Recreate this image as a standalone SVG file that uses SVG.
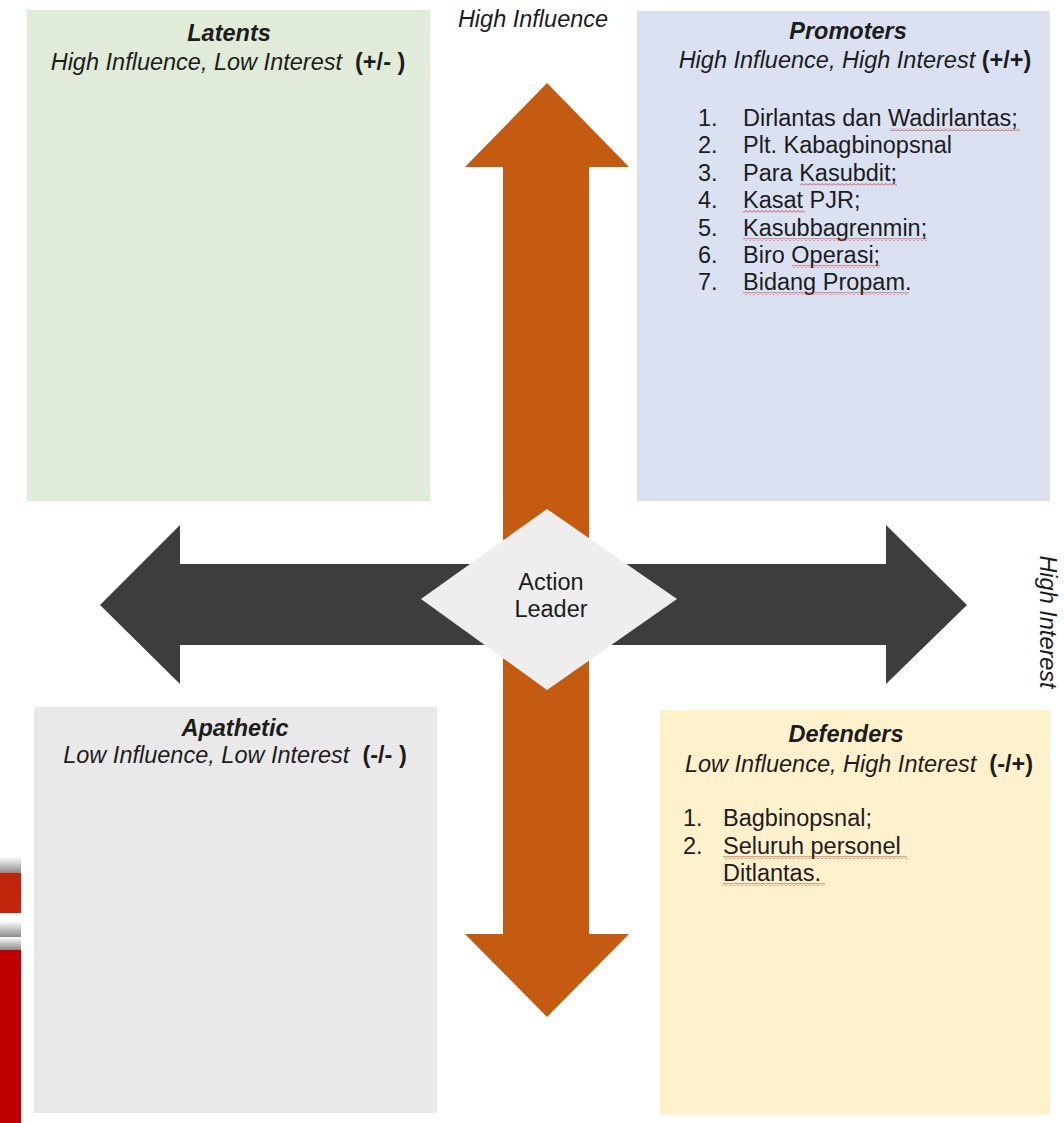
<svg xmlns="http://www.w3.org/2000/svg" width="1064" height="1123" viewBox="0 0 1064 1123">
<defs>
<style>
text{font-family:"Liberation Sans",Arial,sans-serif;font-size:23.5px;fill:#1c1c1c}
.t{font-weight:bold;font-style:italic;text-anchor:middle}
.s{font-style:italic;text-anchor:middle}
.b{font-weight:bold;font-style:normal}
.box{stroke:none}
.wv{fill:url(#wave)}
</style>
<pattern id="wave" width="4" height="3" patternUnits="userSpaceOnUse">
<path d="M0,2.5 L2,0.5 L4,2.5" fill="none" stroke="#d02020" stroke-width="0.8"/>
</pattern>
<linearGradient id="gb" x1="0" y1="0" x2="0" y2="1">
<stop offset="0" stop-color="#ffffff"/>
<stop offset="1" stop-color="#8a8a8a"/>
</linearGradient>
</defs>
<rect width="1064" height="1123" fill="#ffffff"/>

<!-- side decoration -->
<rect x="0" y="857" width="21" height="16" fill="url(#gb)"/>
<rect x="0" y="873" width="21" height="40" fill="#c2250b"/>
<rect x="0" y="921" width="21" height="16" fill="url(#gb)"/>
<rect x="0" y="937" width="21" height="13" fill="url(#gb)"/>
<rect x="0" y="950" width="21" height="173" fill="#c00000"/>

<g id="latents">
<rect class="box" x="27" y="10" width="403" height="491" fill="#e0ecd8"/>
<text class="t" x="229" y="41">Latents</text>
<text class="s" x="228" y="70">High Influence, Low Interest&#160; <tspan class="b">(+/- )</tspan></text>
</g>

<g id="promoters">
<rect class="box" x="637" y="11" width="413" height="490" fill="#dae2f2"/>
<text class="t" x="848" y="39">Promoters</text>
<text class="s" x="855" y="68">High Influence, High Interest <tspan class="b">(+/+)</tspan></text>
<g>
<text x="698" y="126">1.</text><text x="743" y="126">Dirlantas dan Wadirlantas;</text>
<text x="698" y="153">2.</text><text x="743" y="153">Plt. Kabagbinopsnal</text>
<text x="698" y="181">3.</text><text x="743" y="181">Para Kasubdit;</text>
<text x="698" y="208">4.</text><text x="743" y="208">Kasat PJR;</text>
<text x="698" y="236">5.</text><text x="743" y="236">Kasubbagrenmin;</text>
<text x="698" y="263">6.</text><text x="743" y="263">Biro Operasi;</text>
<text x="698" y="290">7.</text><text x="743" y="290">Bidang Propam.</text>
</g>
<rect class="wv" x="890" y="128" width="130" height="3"/>
<rect class="wv" x="800" y="183" width="97" height="3"/>
<rect class="wv" x="743" y="210" width="62" height="3"/>
<rect class="wv" x="743" y="238" width="184" height="3"/>
<rect class="wv" x="792" y="265" width="88" height="3"/>
<rect class="wv" x="743" y="292" width="166" height="3"/>
</g>

<g id="apathetic">
<rect class="box" x="34" y="707" width="403" height="406" fill="#e9e9e9"/>
<text class="t" x="235" y="736">Apathetic</text>
<text class="s" x="235" y="763">Low Influence, Low Interest&#160; <tspan class="b">(-/- )</tspan></text>
</g>

<g id="defenders">
<rect class="box" x="660" y="710" width="390" height="405" fill="#fff1cc"/>
<text class="t" x="846" y="742">Defenders</text>
<text class="s" x="859" y="772">Low Influence, High Interest&#160; <tspan class="b">(-/+)</tspan></text>
<text x="683" y="826">1.</text><text x="723" y="826">Bagbinopsnal;</text>
<text x="683" y="854">2.</text><text x="723" y="854">Seluruh personel</text>
<text x="723" y="881">Ditlantas.</text>
<rect class="wv" x="723" y="856" width="184" height="3"/>
<rect class="wv" x="723" y="883" width="102" height="3"/>
</g>

<g id="connectors">
<polygon id="influence-axis" points="547,83 629,167 589,167 589,934 629,934 547,1017 465,934 503,934 503,167 465,167" fill="#c55a11"/>
<polygon id="interest-axis" points="100,605 180,525 180,564 886,564 886,525 967,605 886,684 886,645 180,645 180,684" fill="#3d3d3d"/>
</g>

<g id="action-leader">
<polygon points="547,509 677,599 547,690 421,599" fill="#eeeeee"/>
<text x="551" y="590" text-anchor="middle">Action</text>
<text x="551" y="617" text-anchor="middle">Leader</text>
</g>

<g id="axis-labels">
<text class="s" x="533" y="27">High Influence</text>
<text class="s" transform="translate(1040,622) rotate(90)" x="0" y="0">High Interest</text>
</g>
</svg>
